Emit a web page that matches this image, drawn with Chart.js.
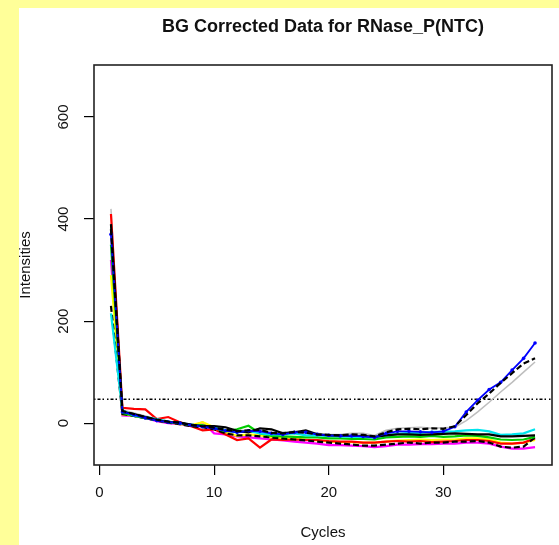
<!DOCTYPE html>
<html>
<head>
<meta charset="utf-8">
<title>BG Corrected Data for RNase_P(NTC)</title>
<script src="https://cdn.jsdelivr.net/npm/chart.js@4.4.1/dist/chart.umd.min.js"></script>
<style>
body { margin: 0; background: #ffff99; overflow: hidden; }
canvas { display: block; }
</style>
</head>
<body>
<canvas id="myChart" width="559" height="545"></canvas>
<script>
const cycles = [1, 2, 3, 4, 5, 6, 7, 8, 9, 10, 11, 12, 13, 14, 15, 16, 17, 18, 19, 20,
  21, 22, 23, 24, 25, 26, 27, 28, 29, 30, 31, 32, 33, 34, 35, 36, 37, 38]

const black = [390, 22, 18, 12, 6, 2, 1, -3, -6, -6, -8, -15, -18, -10, -12, -20, -18, -14, -22, -24,
  -24, -25, -25, -27, -24, -22, -22, -23, -22, -21, -20, -21, -22, -22, -26, -26, -25, -24]
const red = [410, 30, 28, 27, 8, 12, 2, -6, -14, -12, -22, -33, -30, -48, -32, -33, -32, -33, -33, -35,
  -36, -36, -38, -38, -36, -35, -36, -35, -37, -36, -35, -33, -33, -35, -40, -40, -38, -30]
const green = [350, 20, 14, 10, 6, 2, 0, -4, -4, -10, -16, -12, -5, -20, -25, -26, -27, -28, -28, -30,
  -30, -31, -31, -32, -28, -27, -26, -27, -25, -27, -26, -24, -25, -28, -32, -33, -32, -27]
const blue = [370, 22, 16, 10, 5, 2, 0, -4, -7, -10, -15, -18, -15, -16, -20, -22, -18, -18, -22, -24,
  -25, -25, -26, -28, -20, -16, -16, -17, -18, -16, -7, 22, 45, 66, 80, 104, 127, 157]
const cyan = [215, 25, 15, 12, 8, 3, 0, -3, -6, -8, -14, -18, -15, -20, -22, -22, -20, -24, -24, -25,
  -26, -27, -27, -28, -24, -21, -19, -19, -17, -17, -16, -14, -13, -16, -23, -22, -20, -12]
const magenta = [320, 15, 14, 10, 4, 0, -2, -6, 2, -20, -22, -26, -28, -30, -32, -34, -36, -38, -40, -43,
  -43, -44, -45, -47, -45, -42, -42, -41, -41, -40, -40, -38, -38, -40, -46, -50, -50, -47]
const yellow = [290, 17, 15, 10, 6, 2, -2, -4, 2, -8, -18, -25, -22, -24, -28, -30, -30, -32, -34, -36,
  -37, -37, -38, -38, -36, -34, -33, -32, -33, -32, -32, -30, -30, -32, -38, -40, -38, -33]
const gray = [420, 26, 20, 14, 8, 3, 1, -3, -5, -8, -12, -15, -14, -12, -18, -18, -16, -18, -20, -22,
  -22, -20, -20, -24, -14, -10, -9, -8, -10, -9, -8, 5, 22, 41, 61, 80, 100, 120]
const blackDash = [380, 24, 18, 12, 7, 3, 1, -4, -6, -9, -13, -16, -14, -13, -19, -20, -17, -19, -22, -23,
  -24, -22, -23, -26, -18, -12, -11, -12, -10, -11, -6, 16, 39, 58, 79, 98, 117, 127]
const blackLow = [230, 18, 14, 10, 5, 1, -2, -6, -8, -12, -20, -24, -24, -26, -28, -30, -32, -34, -36, -38,
  -40, -42, -44, -44, -42, -40, -38, -40, -38, -38, -36, -36, -35, -38, -46, -48, -46, -28]

const threshold = 47
const xRange = [-0.48, 39.48]
const yRange = [-82, 702]
const xTickValues = [0, 10, 20, 30]
const yTickValues = [0, 200, 400, 600]

const fontName = "'Liberation Sans', Arial, sans-serif"

function serie(data, color, extra) {
  return Object.assign({
    data: data.map((v, i) => ({ x: cycles[i], y: v })),
    borderColor: color,
    backgroundColor: color,
    borderWidth: 2.2,
    pointRadius: 0,
    tension: 0
  }, extra || {})
}

const datasets = [
  serie(blackDash, "#000000", { borderDash: [6, 3] }),
  serie(blue, "#0000ff", { borderWidth: 1.8, pointRadius: 1.8, pointBorderWidth: 0 }),
  serie(black, "#000000"),
  serie(cyan, "#00e5ee"),
  serie(green, "#00cd00"),
  serie(blackLow, "#000000", { borderDash: [6, 3] }),
  serie(red, "#ff0000"),
  serie(yellow, "#ffff00"),
  serie(magenta, "#ff00ff"),
  serie(gray, "#bebebe", { borderWidth: 1.5 }),
  {
    data: xRange.map(x => ({ x: x, y: threshold })),
    borderColor: "#000000",
    borderWidth: 1.5,
    borderDash: [1.5, 2, 3, 2, 1.5, 3],
    pointRadius: 0
  }
]

const fondo = {
  id: "fondo",
  beforeDraw(chart) {
    const ctx = chart.ctx
    ctx.save()
    ctx.fillStyle = "#ffff99"
    ctx.fillRect(0, 0, chart.width, chart.height)
    ctx.fillStyle = "#ffffff"
    ctx.fillRect(19, 8, chart.width - 19, chart.height - 8)
    ctx.restore()
  },
  afterDraw(chart) {
    const a = chart.chartArea
    const ctx = chart.ctx
    ctx.save()
    ctx.strokeStyle = "#222222"
    ctx.lineWidth = 1.6
    ctx.strokeRect(a.left, a.top, a.right - a.left, a.bottom - a.top)
    ctx.restore()
  }
}

new Chart(document.getElementById("myChart").getContext("2d"), {
  type: "line",
  data: { datasets },
  options: {
    responsive: false,
    animation: false,
    devicePixelRatio: 1,
    layout: { padding: { left: 0, right: 7, top: 0, bottom: 0 } },
    plugins: {
      legend: { display: false },
      tooltip: { enabled: false },
      title: {
        display: true,
        fullSize: false,
        text: "BG Corrected Data for RNase_P(NTC)",
        color: "#111111",
        font: { family: fontName, size: 18, weight: "bold", lineHeight: 1.2 },
        padding: { top: 16, bottom: 27.4 }
      }
    },
    scales: {
      x: {
        type: "linear",
        min: xRange[0],
        max: xRange[1],
        afterBuildTicks: s => { s.ticks = xTickValues.map(v => ({ value: v })) },
        afterFit: s => { s.height = 80 },
        grid: { drawOnChartArea: false, drawTicks: true, tickLength: 10, color: "#000000", lineWidth: 1.2 },
        border: { display: false },
        ticks: { color: "#111111", padding: 9, maxRotation: 0, font: { family: fontName, size: 15 } },
        title: {
          display: true,
          text: "Cycles",
          color: "#111111",
          font: { family: fontName, size: 15, lineHeight: 1.2 },
          padding: { top: 0, bottom: 3 }
        }
      },
      y: {
        type: "linear",
        min: yRange[0],
        max: yRange[1],
        afterBuildTicks: s => { s.ticks = yTickValues.map(v => ({ value: v })) },
        afterFit: s => { s.width = 94 },
        grid: { drawOnChartArea: false, drawTicks: true, tickLength: 10, color: "#000000", lineWidth: 1.2 },
        border: { display: false },
        ticks: {
          color: "#111111", padding: 8, minRotation: 90, maxRotation: 90, crossAlign: "center",
          font: { family: fontName, size: 15 }
        },
        title: {
          display: true,
          text: "Intensities",
          color: "#111111",
          font: { family: fontName, size: 15, lineHeight: 1.2 },
          padding: { top: 17, bottom: 0 }
        }
      }
    }
  },
  plugins: [fondo]
})
</script>
</body>
</html>
